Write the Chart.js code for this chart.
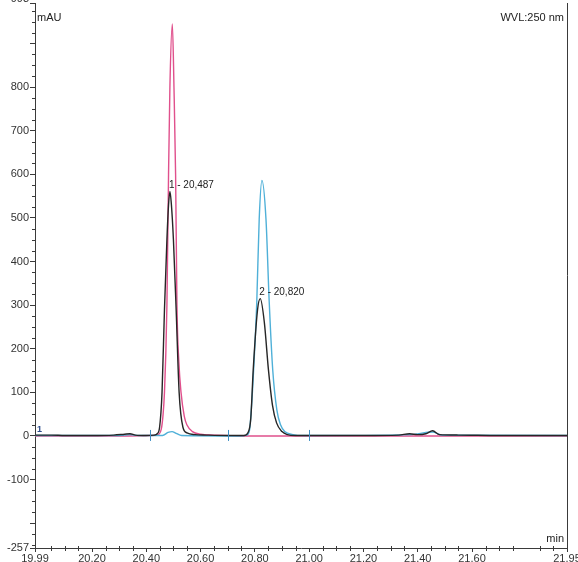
<!DOCTYPE html>
<html>
<head>
<meta charset="utf-8">
<script src="https://cdn.jsdelivr.net/npm/chart.js@4/dist/chart.umd.min.js"></script>
<style>
  html, body { margin: 0; padding: 0; background: #fff; }
</style>
</head>
<body>
<canvas id="chrom" width="578" height="562"></canvas>
<script>
// retention time (min) / signal (mAU) pairs
const blackTimes = [19.99, 20.05, 20.10, 20.20, 20.28, 20.32, 20.34, 20.36, 20.40, 20.43, 20.44, 20.449, 20.458, 20.467, 20.476, 20.482, 20.487, 20.492, 20.500, 20.510, 20.521, 20.535, 20.55, 20.58, 20.62, 20.70, 20.76, 20.775, 20.785, 20.794, 20.81, 20.82, 20.835, 20.85, 20.865, 20.88, 20.90, 20.92, 20.95, 21.00, 21.20, 21.33, 21.37, 21.40, 21.43, 21.455, 21.48, 21.55, 21.70, 21.95];
const blackValues = [2, 2, 1, 1, 2, 4, 5, 2, 1, 2, 5, 20, 100, 290, 450, 530, 561, 535, 450, 290, 100, 20, 7, 3, 2, 1, 1, 8, 40, 152, 290, 315, 260, 152, 70, 30, 10, 3, 1, 1, 1, 2, 5, 3, 5, 12, 3, 2, 1, 1];

const pinkTimes = [19.99, 20.30, 20.42, 20.44, 20.455, 20.462, 20.467, 20.472, 20.476, 20.482, 20.487, 20.496, 20.502, 20.508, 20.513, 20.52, 20.528, 20.54, 20.55, 20.57, 20.60, 20.65, 20.75, 21.95];
const pinkValues = [0, 0, 1, 2, 15, 50, 100, 190, 300, 600, 800, 945, 800, 600, 300, 170, 100, 45, 25, 10, 4, 2, 0, 0];

const blueTimes = [19.99, 20.30, 20.34, 20.37, 20.46, 20.48, 20.495, 20.51, 20.53, 20.74, 20.77, 20.78, 20.788, 20.797, 20.807, 20.816, 20.826, 20.841, 20.853, 20.866, 20.881, 20.895, 20.91, 20.94, 20.98, 21.37, 21.455, 21.49, 21.95];
const blueValues = [1, 1, 3, 1, 1, 8, 10, 6, 1, 0, 2, 12, 70, 170, 306, 497, 586, 497, 306, 150, 60, 25, 10, 3, 1, 3, 9, 2, 1];

// peak integration markers on the blue trace
const markerTimes = [20.414, 20.70, 21.00];

// peak annotations
const peakLabels = ['1 - 20,487', '2 - 20,820'];
const peakTimes = [20.487, 20.820];
const peakValues = [561, 315];

// axis ticks
const xTicks = [19.99, 20.20, 20.40, 20.60, 20.80, 21.00, 21.20, 21.40, 21.60, 21.95];
const yTicks = [-257, -200, -100, 0, 100, 200, 300, 400, 500, 600, 700, 800, 900, 993];
const yLabelled = [-257, -100, 0, 100, 200, 300, 400, 500, 600, 700, 800];
const yTopLabel = '993';

const toPoints = (ts, vs) => ts.map((t, i) => ({ x: t, y: vs[i] }));

const axisColor = '#3a3a3a';
const font = 'Liberation Sans, Arial, sans-serif';

const decorations = {
    id: 'decorations',
    afterDraw(chart) {
        const { ctx, chartArea, scales } = chart;
        const xs = scales.x, ys = scales.y;
        ctx.save();
        ctx.strokeStyle = axisColor;
        ctx.lineWidth = 1;
        ctx.beginPath();
        // minor y ticks every 25
        for (let v = -250; v <= 990; v += 25) {
            if (v % 100 === 0) continue;
            const py = Math.round(ys.getPixelForValue(v)) + 0.5;
            ctx.moveTo(chartArea.left - 3, py);
            ctx.lineTo(chartArea.left, py);
        }
        // minor x ticks every 0.05
        for (let k = 400; k <= 439; k++) {
            const v = k * 0.05;
            if (v < 19.99 || v > 21.95 || k % 4 === 0) continue;
            const px = Math.round(xs.getPixelForValue(v)) + 0.5;
            ctx.moveTo(px, chartArea.bottom - 2);
            ctx.lineTo(px, chartArea.bottom + 3);
        }
        // right frame line
        ctx.moveTo(chartArea.right + 0.5, chartArea.top);
        ctx.lineTo(chartArea.right + 0.5, chartArea.bottom);
        ctx.stroke();

        // integration markers
        ctx.strokeStyle = '#3f8fc4';
        ctx.beginPath();
        markerTimes.forEach(t => {
            const px = Math.round(xs.getPixelForValue(t)) + 0.5;
            const py = ys.getPixelForValue(0);
            ctx.moveTo(px, py - 6);
            ctx.lineTo(px, py + 5);
        });
        ctx.stroke();

        // texts
        ctx.fillStyle = '#222';
        ctx.font = '10px ' + font;
        ctx.textBaseline = 'middle';
        ctx.textAlign = 'left';
        peakLabels.forEach((s, i) => {
            ctx.fillText(s, xs.getPixelForValue(peakTimes[i]) - 1, ys.getPixelForValue(peakValues[i]) - 6);
        });
        ctx.font = '11px ' + font;
        ctx.fillText('mAU', chartArea.left + 2, 18);
        ctx.textAlign = 'right';
        ctx.fillText('WVL:250 nm', chartArea.right - 3, 18);
        ctx.fillText('min', chartArea.right - 3, chartArea.bottom - 9);
        // top axis label sits half off the page
        ctx.fillStyle = '#333';
        ctx.fillText(yTopLabel, chartArea.left - 6, -1);
        ctx.textAlign = 'left';
        ctx.fillStyle = '#2b4a8a';
        ctx.font = 'bold 9px ' + font;
        ctx.fillText('1', chartArea.left + 2, ys.getPixelForValue(0) - 6);
        ctx.restore();
    }
};

const ctx = document.getElementById('chrom').getContext('2d');
const chart = new Chart(ctx, {
    type: 'line',
    data: {
        datasets: [
            { data: toPoints(blackTimes, blackValues), borderColor: '#262626' },
            { data: toPoints(blueTimes, blueValues), borderColor: '#4fb0d8' },
            { data: toPoints(pinkTimes, pinkValues), borderColor: '#e0508c' }
        ]
    },
    options: {
        responsive: false,
        animation: false,
        devicePixelRatio: 1,
        layout: { padding: { top: 3, right: 11, left: 0, bottom: 0 } },
        elements: {
            point: { radius: 0 },
            line: { borderWidth: 1.4, cubicInterpolationMode: 'monotone', fill: false }
        },
        plugins: { legend: { display: false }, tooltip: { enabled: false } },
        scales: {
            x: {
                type: 'linear',
                min: 19.99,
                max: 21.95,
                afterBuildTicks: s => { s.ticks = xTicks.map(v => ({ value: v })); },
                afterFit: s => { s.height = 14; s.paddingLeft = 0; s.paddingRight = 0; },
                grid: { drawOnChartArea: false, tickLength: 4, color: axisColor },
                border: { color: axisColor },
                ticks: {
                    autoSkip: false, maxRotation: 0, padding: 0,
                    color: '#333', font: { family: font, size: 11 },
                    callback: v => v.toFixed(2)
                }
            },
            y: {
                min: -257,
                max: 993,
                afterBuildTicks: s => { s.ticks = yTicks.map(v => ({ value: v })); },
                afterFit: s => { s.width = 35; s.paddingTop = 0; s.paddingBottom = 0; },
                grid: { drawOnChartArea: false, tickLength: 5, color: axisColor },
                border: { color: axisColor },
                ticks: {
                    padding: 1,
                    color: '#333', font: { family: font, size: 11 },
                    callback: v => yLabelled.includes(v) ? String(v) : ''
                }
            }
        }
    },
    plugins: [decorations]
});
</script>
</body>
</html>
